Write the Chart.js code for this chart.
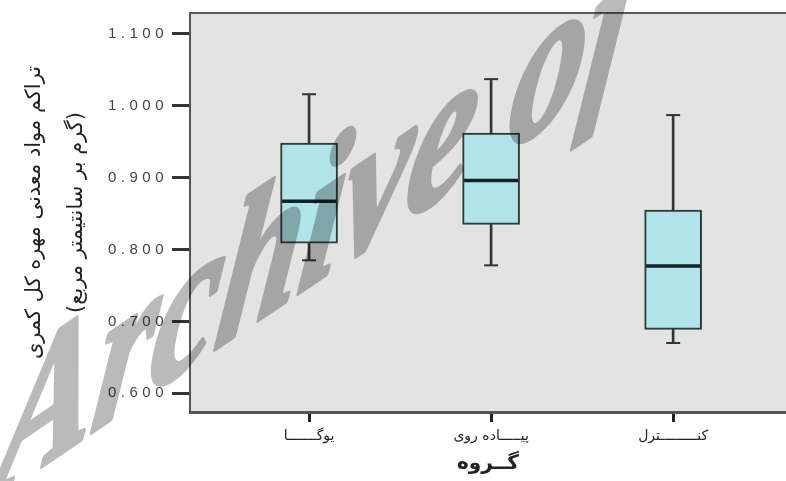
<!DOCTYPE html>
<html>
<head>
<meta charset="utf-8">
<script src="https://cdn.jsdelivr.net/npm/chart.js@4.4.1/dist/chart.umd.min.js"></script>
<style>
  html, body { margin: 0; padding: 0; background: #ffffff; }
  canvas { display: block; direction: rtl; }
</style>
</head>
<body>
<canvas id="c" width="786" height="481"></canvas>
<script>
// ---- data ----
const categories   = ['یوگـــــــا', 'پیـــــاده روی', 'کنـــــــــترل'];
const positions    = [1, 2, 3];
const whiskerLow   = [0.785, 0.778, 0.670];
const q1           = [0.809, 0.835, 0.689];
const median       = [0.867, 0.896, 0.777];
const q3           = [0.948, 0.962, 0.855];
const whiskerHigh  = [1.016, 1.037, 0.987];
const yTicks       = [0.6, 0.7, 0.8, 0.9, 1.0, 1.1];
const yTitle       = ['تراکم مواد معدنی مهره کل کمری', '(گرم بر سانتیمتر مربع)'];
const xTitle       = 'گــروه';
const watermark    = 'Archive of';

const pts = (arr) => positions.map((p, i) => ({ x: p, y: arr[i] }));
const rng = (a, b) => positions.map((p, i) => ({ x: p, y: [a[i], b[i]] }));

const plotBg = {
  id: 'plotBg',
  beforeDraw(chart) {
    const { ctx, chartArea: a } = chart;
    ctx.save();
    ctx.fillStyle = '#e3e3e3';
    ctx.fillRect(a.left, a.top, a.right - a.left, a.bottom - a.top);
    ctx.restore();
    // wider spacing of the numeric tick labels, as in the reference
    const ys = chart.scales.y;
    if (!ys._spaced) {
      const orig = ys.drawLabels;
      ys.drawLabels = function (area) {
        const c = this.ctx;
        c.save();
        try { c.letterSpacing = '4.5px'; } catch (e) {}
        orig.call(this, area);
        c.restore();
      };
      ys._spaced = true;
    }
  },
  afterDraw(chart) {
    const { ctx, chartArea: a } = chart;
    ctx.save();
    ctx.strokeStyle = '#5a5a5a';
    ctx.lineWidth = 2;
    ctx.beginPath();
    ctx.moveTo(a.left, a.top);
    ctx.lineTo(a.right, a.top);
    ctx.stroke();
    ctx.restore();
    // watermark: drawn opaque off-screen, then multiplied onto the chart
    const off = document.createElement('canvas');
    off.width = chart.width; off.height = chart.height;
    const o = off.getContext('2d');
    o.setTransform(0.78, -0.526, -0.16, 1.1, -10, 501);
    o.direction = 'ltr';
    o.textAlign = 'left';
    o.textBaseline = 'alphabetic';
    o.font = 'bold italic 190px "Liberation Serif"';
    o.fillStyle = '#bababa';
    o.strokeStyle = '#bababa';
    o.lineWidth = 5;
    o.lineJoin = 'round';
    o.fillText(watermark, 0, 0);
    o.strokeText(watermark, 0, 0);
    ctx.save();
    ctx.globalCompositeOperation = 'multiply';
    ctx.drawImage(off, 0, 0);
    ctx.restore();
  }
};

new Chart(document.getElementById('c'), {
  type: 'bar',
  data: {
    datasets: [
      { type: 'bar', data: rng(whiskerLow, q1), barThickness: 2, backgroundColor: '#333333',
        borderWidth: 0, grouped: false, order: 3 },
      { type: 'bar', data: rng(q3, whiskerHigh), barThickness: 2, backgroundColor: '#333333',
        borderWidth: 0, grouped: false, order: 3 },
      { type: 'bar', data: rng(q1, q3), barThickness: 57, backgroundColor: '#b0e4e8',
        borderColor: '#2d3b3b', borderWidth: 2, borderSkipped: false, grouped: false, order: 2 },
      { type: 'scatter', data: pts(median), pointStyle: 'line', pointRadius: 27,
        borderColor: '#142222', borderWidth: 3.5, showLine: false, order: 1 },
      { type: 'scatter', data: pts(whiskerLow).concat(pts(whiskerHigh)), pointStyle: 'line', pointRadius: 7,
        borderColor: '#333333', borderWidth: 2, showLine: false, order: 1 }
    ]
  },
  options: {
    responsive: false,
    animation: false,
    events: [],
    layout: { autoPadding: false, padding: { top: 13, right: 0, left: 0, bottom: 0 } },
    plugins: { legend: { display: false }, tooltip: { enabled: false } },
    scales: {
      x: {
        type: 'linear',
        offset: false,
        min: 0.346,
        max: 3.62,
        afterBuildTicks: (s) => { s.ticks = positions.map(v => ({ value: v })); },
        afterFit: (s) => { s.height = 69; s.paddingLeft = 0; s.paddingRight = 0; },
        ticks: {
          callback: (v) => categories[positions.indexOf(v)],
          font: { family: 'DejaVu Sans', size: 14 },
          color: '#222222',
          padding: 6,
          maxRotation: 0,
          autoSkip: false
        },
        grid: { offset: false, drawOnChartArea: false, drawTicks: true, tickLength: 10, tickWidth: 3, tickColor: '#222222' },
        border: { display: true, color: '#555555', width: 3 },
        title: {
          display: true, text: xTitle, color: '#222222',
          font: { family: 'DejaVu Sans', size: 20, weight: 'bold' },
          padding: { top: 0, bottom: 5 }
        }
      },
      y: {
        type: 'linear',
        min: 0.574,
        max: 1.129,
        afterBuildTicks: (s) => { s.ticks = yTicks.map(v => ({ value: v })); },
        afterFit: (s) => { s.width = 190; s.paddingTop = 0; s.paddingBottom = 0; },
        ticks: {
          callback: (v) => Number(v).toFixed(3),
          font: { family: 'Liberation Sans', size: 15 },
          color: '#444444',
          padding: 4
        },
        grid: { drawOnChartArea: false, drawTicks: true, tickLength: 18, tickWidth: 3, tickColor: '#333333' },
        border: { display: true, color: '#555555', width: 2 },
        title: {
          display: true, text: yTitle, color: '#222222',
          font: { family: 'DejaVu Sans', size: 21, lineHeight: '42px' },
          padding: { top: 14, bottom: 0 }
        }
      }
    }
  },
  plugins: [plotBg]
});
</script>
</body>
</html>
